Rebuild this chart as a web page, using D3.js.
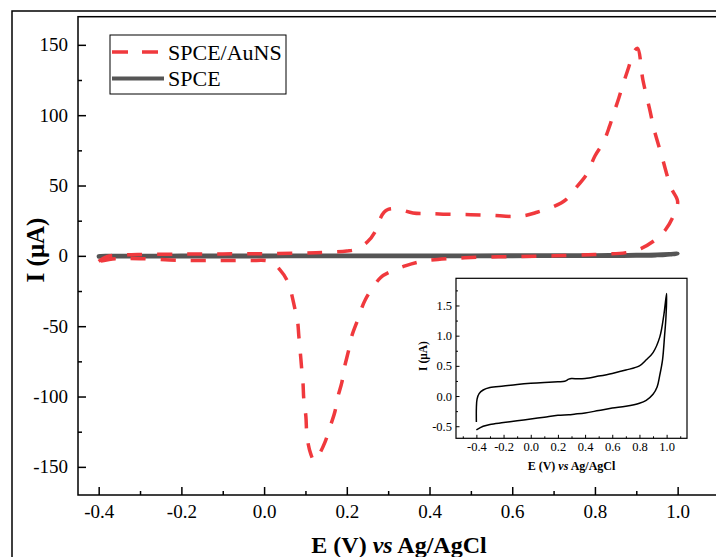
<!DOCTYPE html>
<html>
<head>
<meta charset="utf-8">
<script src="https://cdn.jsdelivr.net/npm/d3@7"></script>
<style>
  body { margin: 0; background: #fff; }
  svg { display: block; font-family: "Liberation Serif", "Times New Roman", serif; }
</style>
</head>
<body>
<svg id="chart" width="716" height="557"></svg>
<script>
// SPCE/AuNS cyclic voltammogram, scan order (E in V, I in uA)
const auE = [-0.4, -0.38, -0.35, -0.3, -0.2, -0.1, 0.0, 0.1, 0.15, 0.2, 0.22, 0.25, 0.27, 0.28, 0.29, 0.3, 0.32, 0.36, 0.4, 0.45, 0.5, 0.55, 0.6, 0.63, 0.66, 0.7, 0.73, 0.75, 0.78, 0.8, 0.82, 0.835, 0.846, 0.858, 0.87, 0.882, 0.894, 0.903, 0.916, 0.934, 0.942, 0.962, 0.984, 1.0,
             0.989, 0.971, 0.947, 0.911, 0.875, 0.8, 0.7, 0.6, 0.5, 0.42, 0.38, 0.343, 0.306, 0.282, 0.245, 0.227, 0.212, 0.205, 0.193, 0.188, 0.178, 0.171, 0.159, 0.147, 0.13, 0.121, 0.113, 0.104, 0.101, 0.096, 0.094, 0.091, 0.089, 0.084, 0.081, 0.074, 0.058, 0.038, 0.014, -0.035, -0.107, -0.2, -0.3, -0.36, -0.4]
const auI = [-4, -0.5, 0.5, 1, 1.2, 1.4, 1.5, 2, 2.5, 3.5, 4.5, 10, 18, 26, 31, 33, 33.5, 30.5, 30, 29.5, 29.3, 28.8, 28, 28.6, 31, 35, 40, 47, 58, 71, 80.5, 91.8, 101.8, 112.4, 123.8, 134.4, 145, 147.5, 125, 102, 91, 70.5, 48.5, 38.6,
             27.9, 18.7, 11.6, 5.2, 2.3, 1, 0, -0.5, -1.2, -2.6, -4, -6.9, -11.2, -15.4, -31, -45, -57, -66.5, -81, -90, -100.6, -111, -122, -132.6, -142.7, -145.5, -141, -129, -114, -102, -90, -80.7, -73.6, -57, -46.6, -37, -19, -9.8, -4, -3.3, -3.3, -3.3, -2, -2, -4]

// bare SPCE voltammogram (same data in main plot and inset)
const spceE = [-0.4, -0.4, -0.395, -0.38, -0.35, -0.3, -0.2, -0.1, 0.0, 0.1, 0.2, 0.25, 0.28, 0.3, 0.35, 0.4, 0.5, 0.6, 0.7, 0.8, 0.85, 0.9, 0.95, 0.98, 1.0,
               0.995, 0.985, 0.97, 0.95, 0.93, 0.9, 0.85, 0.8, 0.7, 0.6, 0.5, 0.4, 0.32, 0.28, 0.2, 0.1, 0.0, -0.1, -0.2, -0.3, -0.35, -0.4]
const spceI = [-0.43, -0.2, -0.05, 0.04, 0.1, 0.14, 0.165, 0.19, 0.21, 0.225, 0.237, 0.245, 0.28, 0.29, 0.285, 0.29, 0.33, 0.375, 0.43, 0.5, 0.6, 0.72, 0.98, 1.35, 1.7,
               1.3, 1.0, 0.6, 0.35, 0.15, 0.03, -0.07, -0.12, -0.17, -0.2, -0.24, -0.28, -0.3, -0.31, -0.32, -0.35, -0.38, -0.41, -0.44, -0.47, -0.5, -0.56]

const xTicks = [-0.4, -0.2, 0.0, 0.2, 0.4, 0.6, 0.8, 1.0]
const xMinor = [-0.3, -0.1, 0.1, 0.3, 0.5, 0.7, 0.9]
const yTicks = [-150, -100, -50, 0, 50, 100, 150]
const yMinor = [-125, -75, -25, 25, 75, 125]

const insetXTicks = [-0.4, -0.2, 0.0, 0.2, 0.4, 0.6, 0.8, 1.0]
const insetXMinor = [-0.5, -0.3, -0.1, 0.1, 0.3, 0.5, 0.7, 0.9, 1.1]
const insetYTicks = [-0.5, 0.0, 0.5, 1.0, 1.5]
const insetYMinor = [-0.25, 0.25, 0.75, 1.25, 1.75]

const seriesNames = ['SPCE/AuNS', 'SPCE']

const red = '#f0393d', gray = '#555555'
const serif = '"Liberation Serif", "Times New Roman", serif'

const svg = d3.select('#chart')

const zip = (xs, ys) => xs.map((v, i) => [v, ys[i]])
// plain hyphen for negatives, like the original
const fmt1 = d => d.toFixed(1)
const fmt0 = d => d.toFixed(0)

// outer frame
svg.append('rect')
    .attr('x', 12).attr('y', 11)
    .attr('width', 800).attr('height', 700)
    .attr('fill', 'none').attr('stroke', '#000').attr('stroke-width', 1.5)

const x = d3.scaleLinear().domain([-0.45, 1.1]).range([78, 719])
const y = d3.scaleLinear().domain([-170, 170]).range([495, 16.7])

svg.append('rect')
    .attr('x', x.range()[0]).attr('y', y.range()[1])
    .attr('width', x.range()[1] - x.range()[0]).attr('height', y.range()[0] - y.range()[1])
    .attr('fill', 'none').attr('stroke', '#000').attr('stroke-width', 1.5)

const styleAxis = (g, size, sw) => {
    g.attr('font-family', serif)
    g.select('.domain').remove()
    g.selectAll('line').attr('stroke-width', sw)
    g.selectAll('text').attr('font-size', size).attr('fill', '#000').attr('font-family', serif)
}

svg.append('g')
    .attr('transform', `translate(0,${y.range()[0]})`)
    .call(d3.axisBottom(x).tickValues(xTicks).tickFormat(fmt1).tickSize(-8).tickPadding(10))
    .call(g => styleAxis(g, 19, 1.5))
svg.append('g')
    .attr('transform', `translate(0,${y.range()[0]})`)
    .call(d3.axisBottom(x).tickValues(xMinor).tickFormat('').tickSize(-4))
    .call(g => styleAxis(g, 19, 1.5))
svg.append('g')
    .attr('transform', `translate(${x.range()[0]},0)`)
    .call(d3.axisLeft(y).tickValues(yTicks).tickFormat(fmt0).tickSize(-8).tickPadding(10))
    .call(g => styleAxis(g, 19, 1.5))
svg.append('g')
    .attr('transform', `translate(${x.range()[0]},0)`)
    .call(d3.axisLeft(y).tickValues(yMinor).tickFormat('').tickSize(-4))
    .call(g => styleAxis(g, 19, 1.5))

// axis titles
const xTitle = svg.append('text')
    .attr('x', 399).attr('y', 553)
    .attr('text-anchor', 'middle')
    .attr('font-size', 24).attr('font-weight', 'bold')
xTitle.append('tspan').text('E (V) ')
xTitle.append('tspan').attr('font-style', 'italic').text('vs')
xTitle.append('tspan').text(' Ag/AgCl')

svg.append('text')
    .attr('transform', 'translate(44,250) rotate(-90)')
    .attr('text-anchor', 'middle')
    .attr('font-size', 25).attr('font-weight', 'bold')
    .text('I (μA)')

const line = d3.line()
    .x(d => x(d[0]))
    .y(d => y(d[1]))
    .curve(d3.curveCatmullRom.alpha(0.5))

svg.append('path')
    .datum(zip(spceE, spceI))
    .attr('d', line)
    .attr('fill', 'none').attr('stroke', gray).attr('stroke-width', 4)
    .attr('stroke-linecap', 'round').attr('stroke-linejoin', 'round')

svg.append('path')
    .datum(zip(auE, auI))
    .attr('d', line)
    .attr('fill', 'none').attr('stroke', red).attr('stroke-width', 3.5)
    .attr('stroke-dasharray', '15,15')

// legend
const legend = svg.append('g')
legend.append('rect')
    .attr('x', 110).attr('y', 35).attr('width', 176).attr('height', 59)
    .attr('fill', '#fff').attr('stroke', '#000').attr('stroke-width', 1)
seriesNames.forEach((name, i) => {
    let ly = 52 + i * 26.5
    legend.append('line')
        .attr('x1', 112).attr('x2', 164).attr('y1', ly).attr('y2', ly)
        .attr('stroke', i === 0 ? red : gray)
        .attr('stroke-width', i === 0 ? 3.5 : 4)
        .attr('stroke-dasharray', i === 0 ? '16,14' : null)
    legend.append('text')
        .attr('x', 168).attr('y', ly + 7.8)
        .attr('font-size', 22)
        .text(name)
})

// inset
const ix = d3.scaleLinear().domain([-0.55, 1.15]).range([456, 687])
const iy = d3.scaleLinear().domain([-0.7, 1.95]).range([438.3, 278.3])

svg.append('rect')
    .attr('x', ix.range()[0]).attr('y', iy.range()[1])
    .attr('width', ix.range()[1] - ix.range()[0]).attr('height', iy.range()[0] - iy.range()[1])
    .attr('fill', '#fff').attr('stroke', '#000').attr('stroke-width', 1.2)

svg.append('g')
    .attr('transform', `translate(0,${iy.range()[0]})`)
    .call(d3.axisBottom(ix).tickValues(insetXTicks).tickFormat(fmt1).tickSize(-3.5).tickPadding(4))
    .call(g => styleAxis(g, 12.5, 1))
svg.append('g')
    .attr('transform', `translate(0,${iy.range()[0]})`)
    .call(d3.axisBottom(ix).tickValues(insetXMinor).tickFormat('').tickSize(-2))
    .call(g => styleAxis(g, 12.5, 1))
svg.append('g')
    .attr('transform', `translate(${ix.range()[0]},0)`)
    .call(d3.axisLeft(iy).tickValues(insetYTicks).tickFormat(fmt1).tickSize(-3.5).tickPadding(4))
    .call(g => styleAxis(g, 12.5, 1))
svg.append('g')
    .attr('transform', `translate(${ix.range()[0]},0)`)
    .call(d3.axisLeft(iy).tickValues(insetYMinor).tickFormat('').tickSize(-2))
    .call(g => styleAxis(g, 12.5, 1))

const ixTitle = svg.append('text')
    .attr('x', 571.5).attr('y', 470)
    .attr('text-anchor', 'middle')
    .attr('font-size', 12).attr('font-weight', 'bold')
ixTitle.append('tspan').text('E (V) ')
ixTitle.append('tspan').attr('font-style', 'italic').text('vs')
ixTitle.append('tspan').text(' Ag/AgCl')

svg.append('text')
    .attr('transform', 'translate(427,356) rotate(-90)')
    .attr('text-anchor', 'middle')
    .attr('font-size', 11.5).attr('font-weight', 'bold')
    .text('I (μA)')

svg.append('path')
    .datum(zip(spceE, spceI))
    .attr('d', d3.line().x(d => ix(d[0])).y(d => iy(d[1])).curve(d3.curveCatmullRom.alpha(0.5)))
    .attr('fill', 'none').attr('stroke', '#000').attr('stroke-width', 1.5)
</script>
</body>
</html>
